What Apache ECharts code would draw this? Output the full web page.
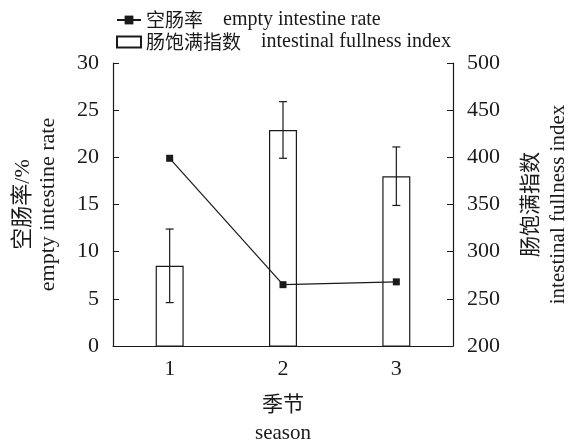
<!DOCTYPE html>
<html><head><meta charset="utf-8">
<script src="https://cdn.jsdelivr.net/npm/echarts@6/dist/echarts.min.js"></script>
<style>html,body{margin:0;padding:0;background:#fff}#c{width:571px;height:443px}</style>
</head><body><div id="c"></div>
<script>
const categories = ['1', '2', '3'];
const emptyRate = [19.9, 6.5, 6.8];
const fullnessIndex = [285, 429, 380];
const fullnessErr = [39, 30, 31];
const leftTicks = [0, 30, 5];
const rightTicks = [200, 500, 50];
const legendCn = ['空肠率', '肠饱满指数'];
const legendEn = ['empty intestine rate', 'intestinal fullness index'];

const FONT = '"Liberation Serif", "Noto Sans CJK SC", serif';
const INK = '#1a1a1a';
const chart = echarts.init(document.getElementById('c'), null, {renderer: 'canvas'});
const errData = categories.map((c, i) => [i, fullnessIndex[i] - fullnessErr[i], fullnessIndex[i] + fullnessErr[i]]);
const name0 = legendCn[0], name1 = legendCn[1];
const legendMap = {};
legendMap[name0] = '{cn|' + legendCn[0] + '}{en|    ' + legendEn[0] + '}';
legendMap[name1] = '{cn|' + legendCn[1] + '}{en|    ' + legendEn[1] + '}';

chart.setOption({
  animation: false,
  backgroundColor: '#fff',
  textStyle: {fontFamily: FONT, color: INK},
  grid: {left: 113, right: 118, top: 63, bottom: 97, outerBoundsMode: 'none', containLabel: false},
  legend: {
    orient: 'vertical', left: 116, top: 10, itemGap: 2, padding: 0,
    itemWidth: 24, itemHeight: 11,
    formatter: function (n) { return legendMap[n]; },
    textStyle: {
      fontFamily: FONT, color: INK,
      rich: {
        cn: {fontFamily: '"Noto Sans CJK SC", sans-serif', fontSize: 19, color: INK, lineHeight: 22},
        en: {fontFamily: FONT, fontSize: 20, color: INK, lineHeight: 22}
      }
    },
    data: [{name: name0}, {name: name1, icon: 'rect'}]
  },
  xAxis: {
    type: 'category', data: categories, boundaryGap: true,
    name: '季节\nseason', nameLocation: 'middle', nameGap: 45,
    nameTextStyle: {fontFamily: FONT, fontSize: 21, color: INK, lineHeight: 28},
    axisLine: {lineStyle: {color: INK, width: 1.2}},
    axisTick: {inside: true, alignWithLabel: true, length: 6, lineStyle: {color: INK}},
    axisLabel: {fontFamily: FONT, fontSize: 22, color: INK, margin: 12}
  },
  yAxis: [{
    type: 'value', min: leftTicks[0], max: leftTicks[1], interval: leftTicks[2],
    name: '空肠率/%\nempty intestine rate', nameLocation: 'middle', nameRotate: 90, nameGap: 52,
    nameTextStyle: {fontFamily: FONT, fontSize: 22, color: INK, lineHeight: 25},
    axisLine: {show: true, lineStyle: {color: INK, width: 1.2}},
    axisTick: {show: true, inside: true, length: 6, lineStyle: {color: INK}},
    axisLabel: {fontFamily: FONT, fontSize: 22, color: INK, margin: 14},
    splitLine: {show: false}
  }, {
    type: 'value', min: rightTicks[0], max: rightTicks[1], interval: rightTicks[2],
    name: '肠饱满指数\nintestinal fullness index', nameLocation: 'middle', nameRotate: 90, nameGap: 65,
    nameTextStyle: {fontFamily: FONT, fontSize: 21, color: INK, lineHeight: 27},
    axisLine: {show: true, lineStyle: {color: INK, width: 1.2}},
    axisTick: {show: true, inside: true, length: 6, lineStyle: {color: INK}},
    axisLabel: {fontFamily: FONT, fontSize: 22, color: INK, margin: 14},
    splitLine: {show: false}
  }],
  series: [{
    name: name1,
    type: 'bar', yAxisIndex: 1, data: fullnessIndex, barWidth: 28, clip: true,
    itemStyle: {color: '#fff', borderColor: INK, borderWidth: 1.2}, z: 2
  }, {
    name: 'err', type: 'custom', yAxisIndex: 1, data: errData, z: 3,
    renderItem: function (params, api) {
      const x = api.value(0);
      const lo = api.coord([x, api.value(1)]);
      const hi = api.coord([x, api.value(2)]);
      const w = 4;
      const st = {stroke: INK, lineWidth: 1.2};
      return {type: 'group', children: [
        {type: 'line', shape: {x1: lo[0], y1: lo[1], x2: hi[0], y2: hi[1]}, style: st},
        {type: 'line', shape: {x1: lo[0] - w, y1: lo[1], x2: lo[0] + w, y2: lo[1]}, style: st},
        {type: 'line', shape: {x1: hi[0] - w, y1: hi[1], x2: hi[0] + w, y2: hi[1]}, style: st}
      ]};
    }
  }, {
    name: name0,
    type: 'line', yAxisIndex: 0, data: emptyRate, z: 4,
    symbol: 'rect', symbolSize: 7,
    lineStyle: {color: INK, width: 1.2},
    itemStyle: {color: INK}
  }]
});
</script></body></html>
